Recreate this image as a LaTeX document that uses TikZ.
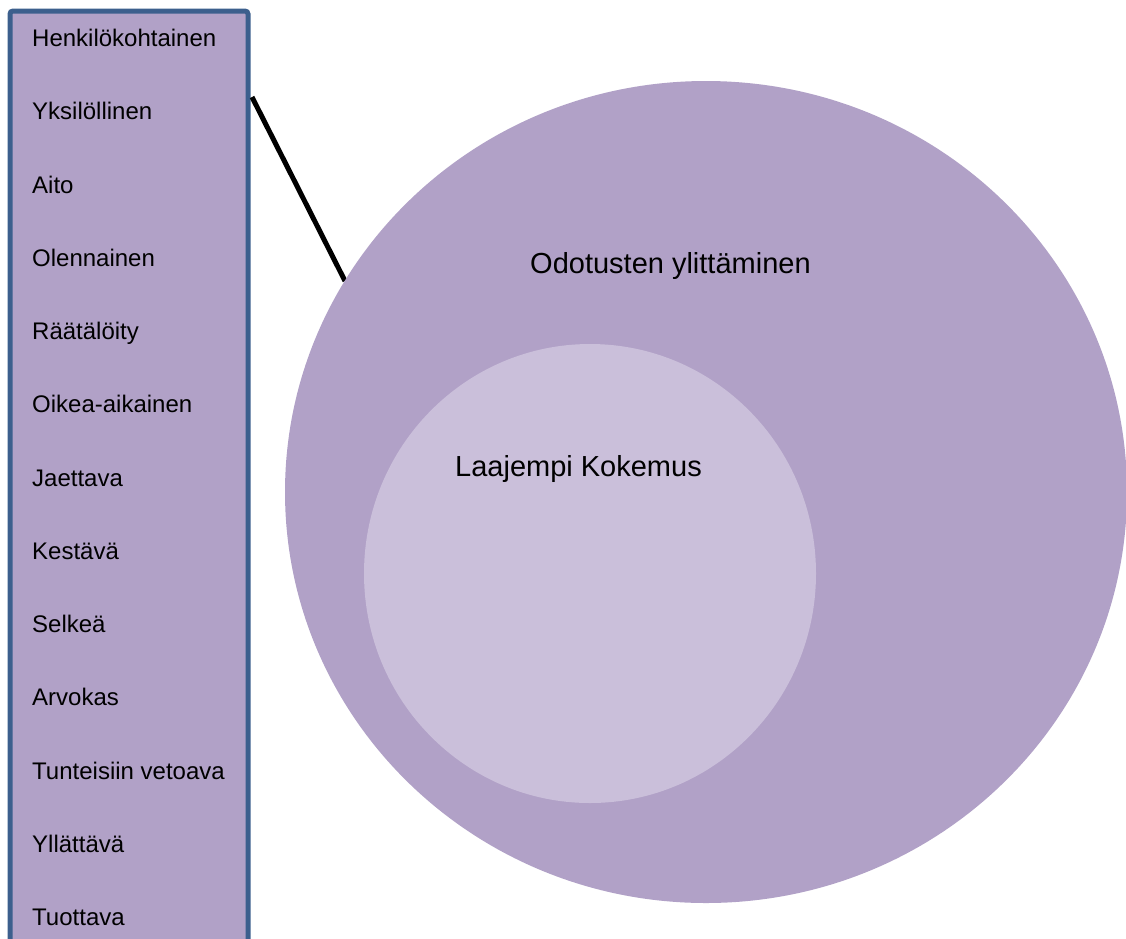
\documentclass[tikz,border=0pt]{standalone}
\usepackage{fontspec}
\setmainfont{Liberation Sans}
\definecolor{lilac}{HTML}{B1A1C7}
\definecolor{lilaclight}{HTML}{CABFDA}
\definecolor{boxborder}{HTML}{3C5F8D}
\tikzset{
  listbox/.style={draw=boxborder, line width=5pt, fill=lilac, rounded corners=3pt},
  item/.style={anchor=base west, inner sep=0pt, font=\fontsize{24pt}{28pt}\selectfont},
  bigtext/.style={anchor=base west, inner sep=0pt, font=\fontsize{29pt}{34pt}\selectfont},
  connector/.style={line width=5pt, black}
}
\begin{document}
\begin{tikzpicture}[x=1pt,y=-1pt]
\useasboundingbox (0,0) rectangle (1126,938);
\clip (0,0) rectangle (1126,938);
% list box
\draw[listbox] (10,11) rectangle (248,990);
\coordinate (boxr) at (252,97);
\coordinate (circtop) at (345,281);
\draw[connector] (boxr) -- (circtop);
% circles
\fill[lilac] (706,492) ellipse [x radius=421, y radius=411];
\fill[lilaclight] (590,573.5) ellipse [x radius=226, y radius=229.5];
\node[bigtext] (outer) at (530,273) {Odotusten ylittäminen};
\node[bigtext] (inner) at (455,476) {Laajempi Kokemus};
% items
\foreach \t [count=\i from 0] in {Henkilökohtainen,Yksilöllinen,Aito,Olennainen,Räätälöity,Oikea-aikainen,Jaettava,Kestävä,Selkeä,Arvokas,Tunteisiin vetoava,Yllättävä,Tuottava}{
  \node[item] (item\i) at (32,46.5+73.25*\i) {\t};
}
\end{tikzpicture}
\end{document}
